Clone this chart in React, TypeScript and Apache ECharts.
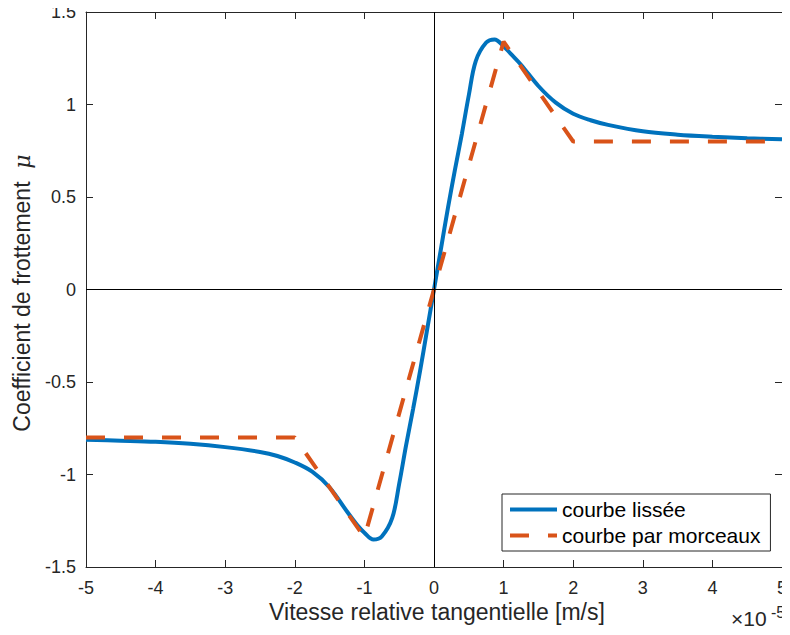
import React, { useEffect, useRef } from "react";
import * as echarts from "echarts";

// Smooth curve (x in units of 1e-5 m/s)
const smoothX = [-5, -4.5, -4, -3.5, -3, -2.5, -2.25, -2, -1.75, -1.5, -1.25, -1.1, -1, -0.87, -0.75, -0.6, -0.5, -0.4, -0.3, -0.2, -0.1, 0, 0.1, 0.2, 0.3, 0.4, 0.5, 0.6, 0.75, 0.87, 1, 1.1, 1.25, 1.5, 1.75, 2, 2.25, 2.5, 3, 3.5, 4, 4.5, 5];
const smoothY = [-0.812, -0.817, -0.823, -0.834, -0.852, -0.878, -0.9, -0.935, -0.985, -1.07, -1.2, -1.275, -1.315, -1.352, -1.335, -1.235, -1.05, -0.84, -0.645, -0.44, -0.22, 0, 0.22, 0.44, 0.645, 0.84, 1.05, 1.235, 1.335, 1.352, 1.315, 1.275, 1.215, 1.1, 1.01, 0.95, 0.915, 0.89, 0.855, 0.837, 0.826, 0.818, 0.812];

// Piecewise curve
const pieceX = [-5, -2, -1, 0, 1, 2, 5];
const pieceY = [-0.8, -0.8, -1.34, 0, 1.34, 0.8, 0.8];

const seriesNames = ["courbe lissée", "courbe par morceaux"];
const xTickLabels = ["-5", "-4", "-3", "-2", "-1", "0", "1", "2", "3", "4", "5"];
const yTickLabels = ["-1.5", "-1", "-0.5", "0", "0.5", "1", "1.5"];

const FONT = "Liberation Sans, Arial, Helvetica, sans-serif";
const TXT = "#262626";

export default function App() {
  const ref = useRef<HTMLDivElement>(null);
  useEffect(() => {
    if (!ref.current) return;
    const chart = echarts.init(ref.current, undefined, { renderer: "svg" });
    const blue = smoothX.map((x, i) => [x, smoothY[i]]);
    const red = pieceX.map((x, i) => [x, pieceY[i]]);
    const xLabel = (v: number) => xTickLabels[Math.round(v) + 5] ?? "";
    const yLabel = (v: number) => yTickLabels[Math.round(v * 2) + 3] ?? "";
    const axisCommon = {
      type: "value" as const,
      splitLine: { show: false },
      axisLine: { show: true, onZero: false, lineStyle: { color: TXT, width: 1 } },
      axisTick: { show: true, inside: true, length: 7, lineStyle: { color: TXT, width: 1 } },
    };
    chart.setOption({
      animation: false,
      backgroundColor: "#ffffff",
      grid: { left: 86, right: 4, top: 12, bottom: 68, containLabel: false },
      xAxis: [
        {
          ...axisCommon,
          min: -5, max: 5, interval: 1, position: "bottom",
          axisLabel: { formatter: xLabel, color: TXT, fontSize: 18, fontFamily: FONT, margin: 12 },
        },
        {
          ...axisCommon,
          min: -5, max: 5, interval: 1, position: "top",
          axisLabel: { show: false },
        },
      ],
      yAxis: [
        {
          ...axisCommon,
          min: -1.5, max: 1.5, interval: 0.5, position: "left",
          axisLabel: { formatter: yLabel, color: TXT, fontSize: 18, fontFamily: FONT, margin: 10 },
        },
        {
          ...axisCommon,
          min: -1.5, max: 1.5, interval: 0.5, position: "right",
          axisLabel: { show: false },
        },
      ],
      legend: {
        orient: "vertical",
        left: 502,
        top: 494,
        padding: [5, 10, 5, 6],
        itemWidth: 47,
        itemHeight: 14,
        itemGap: 5,
        borderColor: TXT,
        borderWidth: 1,
        backgroundColor: "#ffffff",
        data: seriesNames,
        itemStyle: { opacity: 0 },
        lineStyle: { width: 4 },
        textStyle: { color: "#000000", fontSize: 21, fontFamily: FONT },
        z: 10,
      },
      series: [
        {
          name: "axes0",
          type: "line",
          data: [],
          silent: true,
          z: 1,
          markLine: {
            silent: true,
            symbol: "none",
            label: { show: false },
            lineStyle: { color: "#000000", width: 1, type: "solid" },
            emphasis: { disabled: true },
            data: [{ xAxis: 0 }, { yAxis: 0 }],
          },
        },
        {
          name: seriesNames[0],
          type: "line",
          data: blue,
          showSymbol: false,
          symbol: "none",
          smooth: 0.35,
          lineStyle: { color: "#0072BD", width: 4 },
          itemStyle: { color: "#0072BD" },
          z: 2,
        },
        {
          name: seriesNames[1],
          type: "line",
          data: red,
          showSymbol: false,
          symbol: "none",
          lineStyle: { color: "#D95319", width: 4, type: [19, 19], cap: "butt" },
          itemStyle: { color: "#D95319" },
          z: 3,
        },
      ],
      graphic: [
        {
          type: "text",
          x: 437,
          y: 612,
          style: {
            text: "Vitesse relative tangentielle [m/s]",
            font: `23px ${FONT}`,
            fill: TXT,
            align: "center",
            verticalAlign: "middle",
          },
        },
        {
          type: "text",
          x: 22,
          y: 293,
          rotation: Math.PI / 2,
          style: {
            text: "{n|Coefficient de frottement  }{m|μ}",
            align: "center",
            verticalAlign: "middle",
            rich: {
              n: { font: `23px ${FONT}`, fill: TXT },
              m: { font: `italic 22px DejaVu Serif, serif`, fill: TXT },
            },
          },
        },
        {
          type: "text",
          x: 731,
          y: 618,
          style: { text: "×10", font: `21px ${FONT}`, fill: TXT, align: "left", verticalAlign: "middle" },
        },
        {
          type: "text",
          x: 771,
          y: 612,
          style: { text: "-5", font: `16px ${FONT}`, fill: TXT, align: "left", verticalAlign: "middle" },
        },
      ],
    });
    return () => chart.dispose();
  }, []);
  return <div ref={ref} style={{ width: 790, height: 635, margin: -8 }} />;
}
